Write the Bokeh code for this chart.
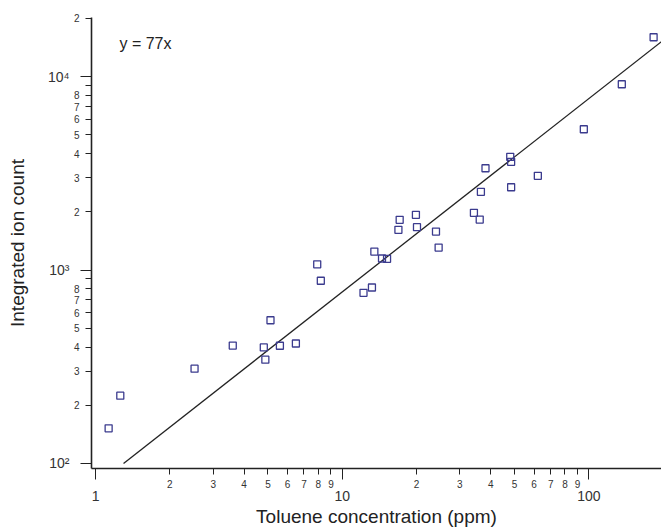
from bokeh.plotting import figure
from bokeh.models import LogAxis, FixedTicker, Range1d, Label, ColumnDataSource
from bokeh.embed import file_html
from bokeh.resources import INLINE

# ---- data ----
conc = [1.13, 1.26, 2.52, 3.60, 4.81, 4.88, 5.12, 5.59, 6.49, 7.92, 8.19,
        12.2, 13.2, 13.5, 14.5, 15.2, 16.9, 17.1, 19.9, 20.1, 24.0, 24.6,
        34.2, 36.1, 36.5, 38.1, 48.0, 48.4, 48.4, 62.1, 95.4, 136.0, 183.0]
counts = [152, 224, 309, 407, 398, 344, 550, 406, 417, 1070, 880,
          762, 812, 1246, 1147, 1143, 1614, 1817, 1929, 1665, 1581, 1307,
          1975, 1824, 2536, 3358, 3846, 3624, 2679, 3067, 5343, 9124, 15966]
slope = 77
fit_x = [100 / slope, 210.0]
fit_y = [slope * v for v in fit_x]

x_major = [1, 10, 100]
x_minor = [2, 3, 4, 5, 6, 7, 8, 9, 20, 30, 40, 50, 60, 70, 80, 90]
x_major_labels = ["1", "10", "100"]
y_major = [100, 1000, 10000]
y_major_labels = ["10\u00b2", "10\u00b3", "10\u2074"]
y_minor = [200, 300, 400, 500, 600, 700, 800, 900,
           2000, 3000, 4000, 5000, 6000, 7000, 8000, 9000, 20000]
y_minor_labeled = [200, 300, 400, 500, 600, 700, 800,
                   2000, 3000, 4000, 5000, 6000, 7000, 8000, 20000]

FONT = "Liberation Sans"
DARK = "#222222"
MARK = "#3b3b8e"

def first_digit(v):
    return str(int(str(int(v))[0]))

p = figure(width=661, height=529, x_axis_type="log", y_axis_type="log",
           x_axis_location=None, y_axis_location=None,
           x_range=Range1d(0.963, 197), y_range=Range1d(94.2, 20200),
           output_backend="svg", toolbar_location=None,
           min_border_left=91, min_border_right=0, min_border_top=17,
           min_border_bottom=61)
p.outline_line_color = None
p.background_fill_color = "white"
p.border_fill_color = "white"

def tick_axis(major, minor):
    return LogAxis(ticker=FixedTicker(ticks=major, minor_ticks=minor),
                   major_tick_out=11, major_tick_in=0,
                   minor_tick_out=6, minor_tick_in=0,
                   axis_line_width=1.6, axis_line_color=DARK,
                   major_tick_line_color=DARK, minor_tick_line_color=DARK,
                   major_tick_line_width=1, minor_tick_line_width=1,
                   major_label_text_font_size="0px",
                   major_label_overrides={v: "" for v in major},
                   major_label_standoff=-5)

def label_axis(ticks, labels, size, standoff):
    return LogAxis(ticker=FixedTicker(ticks=ticks, minor_ticks=[]),
                   axis_line_color=None, major_tick_line_color=None,
                   minor_tick_line_color=None,
                   major_tick_out=0, major_tick_in=0,
                   minor_tick_out=0, minor_tick_in=0,
                   major_label_overrides=dict(zip(ticks, labels)),
                   major_label_text_font=FONT,
                   major_label_text_font_size=size,
                   major_label_text_color="#333333",
                   major_label_standoff=standoff)

# x axes (nearest first)
xa = tick_axis(x_major, x_minor)
xb = label_axis(x_minor, [first_digit(v) for v in x_minor], "10px", 0)
xc = label_axis(x_major, x_major_labels, "14px", 0)
xc.axis_label = "Toluene concentration (ppm)"
xc.axis_label_text_font = FONT
xc.axis_label_text_font_style = "normal"
xc.axis_label_text_font_size = "19px"
xc.axis_label_text_color = DARK
xc.axis_label_standoff = 2
for ax in (xa, xb, xc):
    p.add_layout(ax, "below")

# y axes (nearest first)
ya = tick_axis(y_major, y_minor)
yb = label_axis(y_minor_labeled, [first_digit(v) for v in y_minor_labeled], "10px", 1)
yc = label_axis(y_major, y_major_labels, "14px", 1)
yc.axis_label = "Integrated ion count"
yc.axis_label_text_font = FONT
yc.axis_label_text_font_style = "normal"
yc.axis_label_text_font_size = "19px"
yc.axis_label_text_color = DARK
yc.axis_label_standoff = 17
for ax in (ya, yb, yc):
    p.add_layout(ax, "left")

p.xgrid.visible = False
p.ygrid.visible = False

p.line(fit_x, fit_y, line_color=DARK, line_width=1.3)
src = ColumnDataSource(dict(x=conc, y=counts))
p.scatter("x", "y", source=src, marker="square", size=7,
          fill_color=None, line_color=MARK, line_width=1.3)

p.add_layout(Label(x=1.25, y=14800, text=f"y = {slope}x",
                   text_baseline="middle", text_font=FONT,
                   text_font_size="16px", text_color=DARK))

open("out.html", "w").write(file_html(p, INLINE))
